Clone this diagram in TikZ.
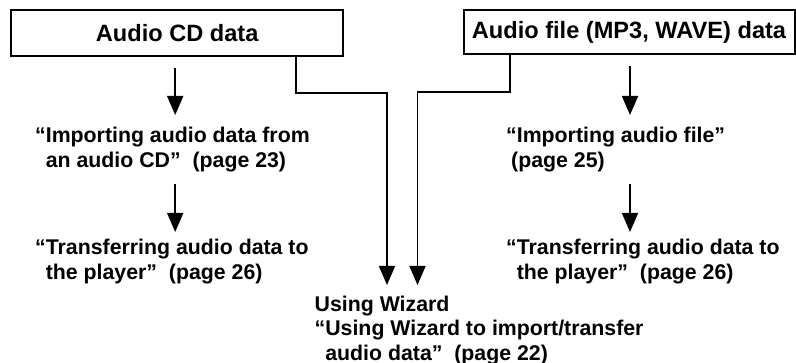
\documentclass[tikz,border=0pt]{standalone}
\usepackage{fontspec}
\setmainfont{Liberation Sans}
\usetikzlibrary{arrows.meta,positioning}

\begin{document}
\begin{tikzpicture}[x=1pt, y=1pt,
  srcbox/.style={draw, line width=2pt, inner sep=0pt, font=\fontsize{23.6}{28}\selectfont\bfseries},
  txt/.style={align=left, anchor=north west, inner sep=0pt, font=\fontsize{21.3}{24.5}\selectfont\bfseries},
  flow/.style={-{Triangle[length=19pt,width=16pt]}, line width=1.8pt}]
\useasboundingbox (0,0) rectangle (796,363);
\node [srcbox, minimum width=332pt, minimum height=46pt] (cdbox) at (177.2,329.8) {Audio CD data};
\node [srcbox, minimum width=331pt, minimum height=44pt] (filebox) at (629,330.7) {Audio file (MP3, WAVE) data};
\node [txt] (cdimport) at (35,236) {“Importing audio data from\\\hphantom{“}an audio CD”\ \ (page 23)};
\node [txt] (cdtransfer) at (35,124) {“Transferring audio data to\\\hphantom{“}the player”\ \ (page 26)};
\node [txt] (fileimport) at (506,236) {“Importing audio file”\\\hspace*{5pt}(page 25)};
\node [txt] (filetransfer) at (506,124) {“Transferring audio data to\\\hphantom{“}the player”\ \ (page 26)};
\node [txt] (wizard) at (314.5,67.5) {Using Wizard\\“Using Wizard to import/transfer\\\hphantom{“}audio data”\ \ (page 22)};
% left column
\draw [flow, shorten <=11pt, shorten >=12pt] ([xshift=-2pt]cdbox.south) -- ([xshift=-2pt]cdbox.south |- cdimport.north);
\draw [flow, shorten <=11.8pt, shorten >=7pt] ([xshift=-2pt]cdbox.south |- cdimport.south) -- ([xshift=-2pt]cdbox.south |- cdtransfer.north);
% right column
\draw [flow, shorten <=11pt, shorten >=12pt] ([xshift=1pt]filebox.south) -- ([xshift=1pt]filebox.south |- fileimport.north);
\draw [flow, shorten <=11.8pt, shorten >=7pt] ([xshift=1pt]filebox.south |- fileimport.south) -- ([xshift=1pt]filebox.south |- filetransfer.north);
% both sources to the wizard
\draw [flow, shorten >=10.5pt] ([xshift=-48.3pt]cdbox.south east) -- ++(0,-35.7) -| ([xshift=72.5pt]wizard.north west);
\draw [flow, shorten >=10.5pt] ([xshift=47.3pt]filebox.south west) -- ++(0,-36.7) -| ([xshift=103pt]wizard.north west);
\end{tikzpicture}
\end{document}
